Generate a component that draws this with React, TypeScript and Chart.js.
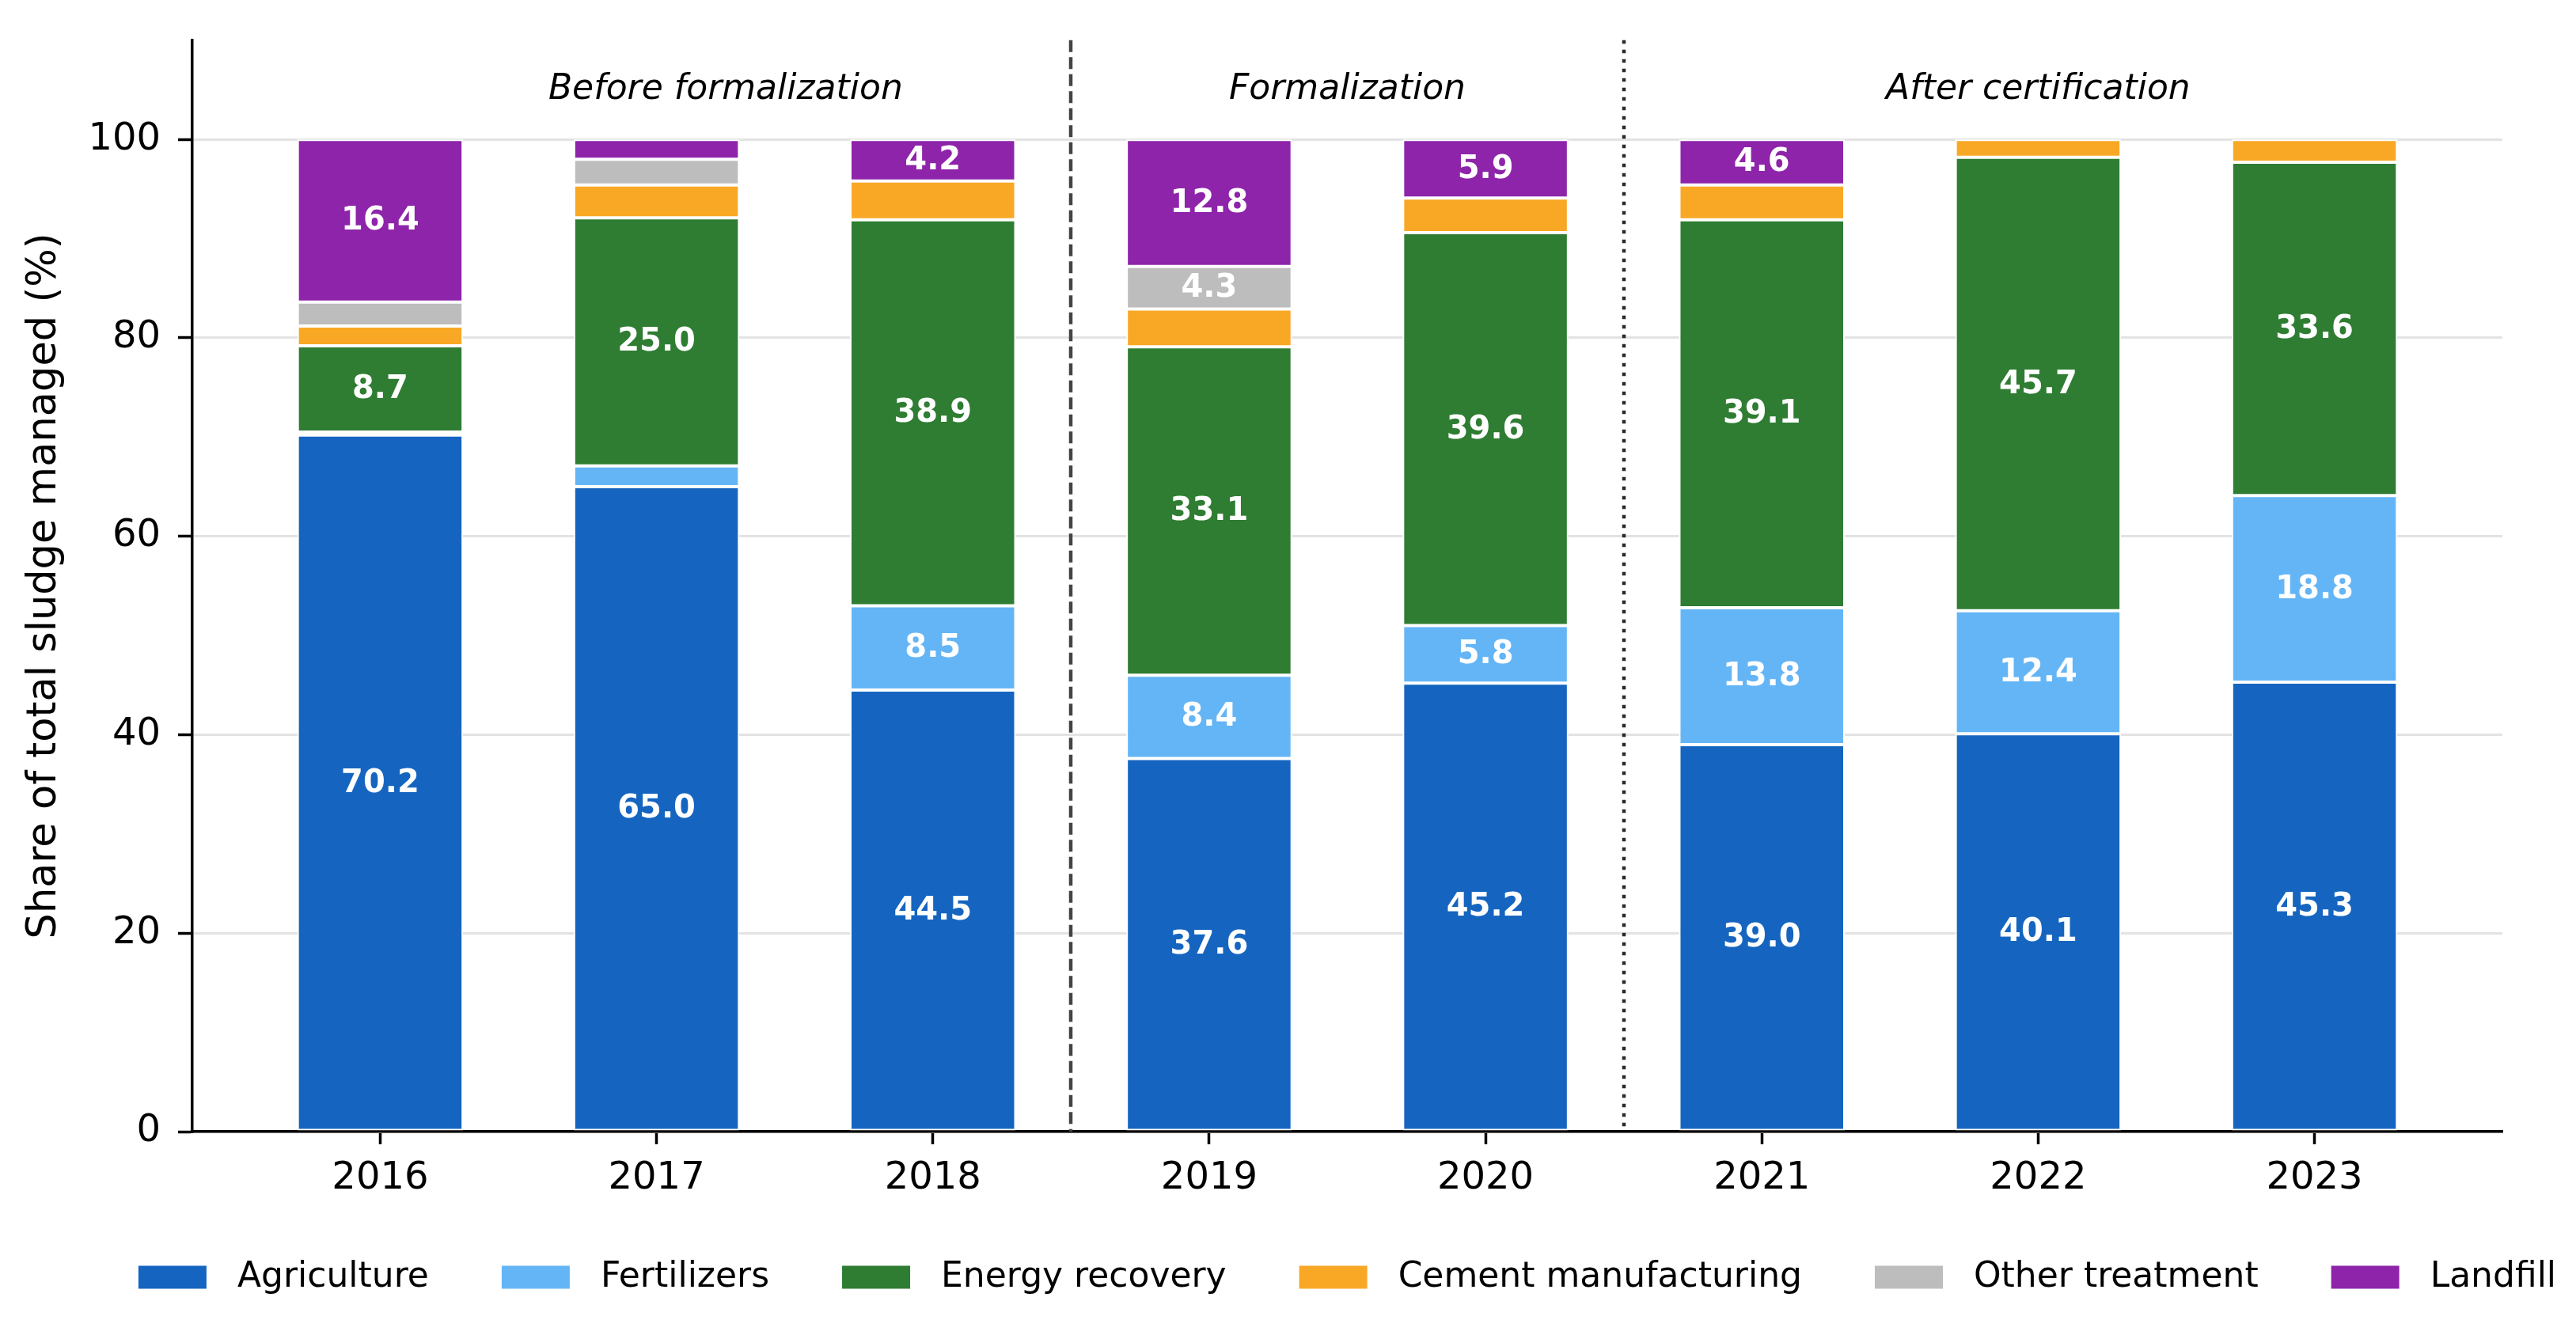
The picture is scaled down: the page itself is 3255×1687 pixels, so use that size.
import { useEffect, useRef } from "react"
import { Chart, registerables } from "chart.js"

Chart.register(...registerables)

// Years on the x axis, bottom-to-top stack order of the treatment routes
const years = ["2016", "2017", "2018", "2019", "2020", "2021", "2022", "2023"]
const seriesNames = [
  "Agriculture",
  "Fertilizers",
  "Energy recovery",
  "Cement manufacturing",
  "Other treatment",
  "Landfill",
]
const seriesColors = ["#1565C0", "#64B5F6", "#2E7D32", "#F9A825", "#BDBDBD", "#8E24AA"]

// Share of total sludge managed (%)
const agriculture = [70.2, 65.0, 44.5, 37.6, 45.2, 39.0, 40.1, 45.3]
const fertilizers = [0.3, 2.1, 8.5, 8.4, 5.8, 13.8, 12.4, 18.8]
const energyRecovery = [8.7, 25.0, 38.9, 33.1, 39.6, 39.1, 45.7, 33.6]
const cementManufacturing = [2.0, 3.3, 3.9, 3.8, 3.5, 3.5, 1.8, 2.3]
const otherTreatment = [2.4, 2.6, 0, 4.3, 0, 0, 0, 0]
const landfill = [16.4, 2.0, 4.2, 12.8, 5.9, 4.6, 0, 0]

const yTicks = [0, 20, 40, 60, 80, 100]

// Period annotations (x in category units)
const phaseLabels = ["Before formalization", "Formalization", "After certification"]
const phaseCenters = [1.25, 3.5, 6]
const phaseBreaks = [2.5, 4.5]

const FONT = "'DejaVu Sans', sans-serif"

// white value labels in the middle of each segment (only the bigger ones)
const segmentLabels = {
  id: "segmentLabels",
  afterDatasetsDraw(chart: any) {
    const { ctx } = chart
    ctx.save()
    ctx.font = `bold 40px ${FONT}`
    ctx.fillStyle = "#ffffff"
    ctx.textAlign = "center"
    ctx.textBaseline = "middle"
    chart.data.datasets.forEach((ds: any, i: number) => {
      const meta = chart.getDatasetMeta(i)
      meta.data.forEach((bar: any, j: number) => {
        const v = ds.data[j]?.y
        if (v == null || v < 4) return
        const { x, y, base } = bar.getProps(["x", "y", "base"], true)
        ctx.fillText(v.toFixed(1), x, (y + base) / 2 + 1)
      })
    })
    ctx.restore()
  },
}

// dashed / dotted period separators and the italic period titles
const periods = {
  id: "periods",
  afterDatasetsDraw(chart: any) {
    const { ctx, chartArea, scales } = chart
    const xs = scales.x
    const ys = scales.y
    ctx.save()
    phaseBreaks.forEach((b, i) => {
      const px = Math.round(xs.getPixelForValue(b))
      ctx.beginPath()
      ctx.lineWidth = 4.5
      ctx.strokeStyle = i === 0 ? "#444444" : "#2a2a2a"
      ctx.setLineDash(i === 0 ? [15, 6.5] : [4.5, 7.5])
      ctx.moveTo(px, chartArea.top)
      ctx.lineTo(px, chartArea.bottom)
      ctx.stroke()
    })
    ctx.setLineDash([])
    ctx.font = `italic 44px ${FONT}`
    ctx.fillStyle = "#000000"
    ctx.textAlign = "center"
    ctx.textBaseline = "middle"
    phaseLabels.forEach((t, i) => {
      ctx.fillText(t, xs.getPixelForValue(phaseCenters[i]), ys.getPixelForValue(105))
    })
    ctx.restore()
  },
}

// legend row under the axes, centred on the plot area
const bottomLegend = {
  id: "bottomLegend",
  afterDraw(chart: any) {
    const { ctx, chartArea } = chart
    const boxW = 86
    const boxH = 29
    const textGap = 39
    const itemGap = 92
    ctx.save()
    ctx.font = `44px ${FONT}`
    const items = chart.data.datasets.map((ds: any) => ({
      text: ds.label,
      color: ds.backgroundColor,
      w: ctx.measureText(ds.label).width,
    }))
    const total =
      items.reduce((s: number, it: any) => s + boxW + textGap + it.w, 0) + itemGap * (items.length - 1)
    let x = (chartArea.left + chartArea.right) / 2 - total / 2
    const cy = chartArea.bottom + 184
    ctx.textAlign = "left"
    ctx.textBaseline = "middle"
    items.forEach((it: any) => {
      ctx.fillStyle = it.color
      ctx.fillRect(x, cy - boxH / 2, boxW, boxH)
      ctx.fillStyle = "#000000"
      ctx.fillText(it.text, x + boxW + textGap, cy + 1)
      x += boxW + textGap + it.w + itemGap
    })
    ctx.restore()
  },
}

export default function App() {
  const chartRef = useRef<HTMLCanvasElement>(null)
  const chartInstance = useRef<Chart | null>(null)

  useEffect(() => {
    if (!chartRef.current) return
    if (chartInstance.current) chartInstance.current.destroy()
    const ctx = chartRef.current.getContext("2d")
    if (!ctx) return

    const series = [agriculture, fertilizers, energyRecovery, cementManufacturing, otherTreatment, landfill]

    chartInstance.current = new Chart(ctx, {
      type: "bar",
      data: {
        datasets: series.map((values, i) => ({
          label: seriesNames[i],
          data: values.map((v, j) => ({ x: j, y: v > 0 ? v : null })),
          backgroundColor: seriesColors[i],
          borderColor: "#ffffff",
          borderWidth: 2,
          borderSkipped: false,
          inflateAmount: 0,
          barPercentage: 1,
          categoryPercentage: 0.6,
        })),
      } as any,
      options: {
        animation: false,
        responsive: true,
        maintainAspectRatio: false,
        layout: {
          padding: { top: 46, right: 93, left: 0, bottom: 0 },
        },
        plugins: {
          legend: { display: false },
          tooltip: { enabled: false },
        },
        scales: {
          x: {
            type: "linear",
            stacked: true,
            min: -0.68,
            max: 7.68,
            offset: false,
            afterBuildTicks: (scale: any) => {
              scale.ticks = years.map((_, i) => ({ value: i }))
            },
            afterFit: (scale: any) => {
              scale.height = 257
            },
            grid: {
              offset: false,
              drawOnChartArea: false,
              drawTicks: true,
              tickLength: 16,
              tickColor: "#000000",
              tickWidth: 3.5,
            },
            border: { display: true, color: "#000000", width: 3.5 },
            ticks: {
              autoSkip: false,
              maxRotation: 0,
              padding: 15,
              color: "#000000",
              font: { family: FONT, size: 48 },
              callback: (value: any) => years[value as number] ?? "",
            },
          },
          y: {
            stacked: true,
            min: 0,
            max: 110,
            afterBuildTicks: (scale: any) => {
              scale.ticks = yTicks.map((v) => ({ value: v }))
            },
            afterFit: (scale: any) => {
              scale.width = 243
            },
            grid: {
              color: "#e3e3e3",
              lineWidth: 3,
              drawTicks: true,
              tickLength: 18,
              tickColor: "#000000",
              tickWidth: 3.5,
            },
            border: { display: true, color: "#000000", width: 3.5 },
            ticks: {
              padding: 22,
              color: "#000000",
              font: { family: FONT, size: 48 },
            },
            title: {
              display: true,
              text: "Share of total sludge managed (%)",
              color: "#000000",
              font: { family: FONT, size: 51 },
              padding: { top: 26, bottom: 0 },
            },
          },
        },
      } as any,
      plugins: [periods, segmentLabels, bottomLegend],
    })

    return () => {
      if (chartInstance.current) {
        chartInstance.current.destroy()
        chartInstance.current = null
      }
    }
  }, [])

  return (
    <div style={{ position: "fixed", left: 0, top: 0, width: "100vw", height: "100vh", background: "#ffffff" }}>
      <canvas ref={chartRef}></canvas>
    </div>
  )
}
